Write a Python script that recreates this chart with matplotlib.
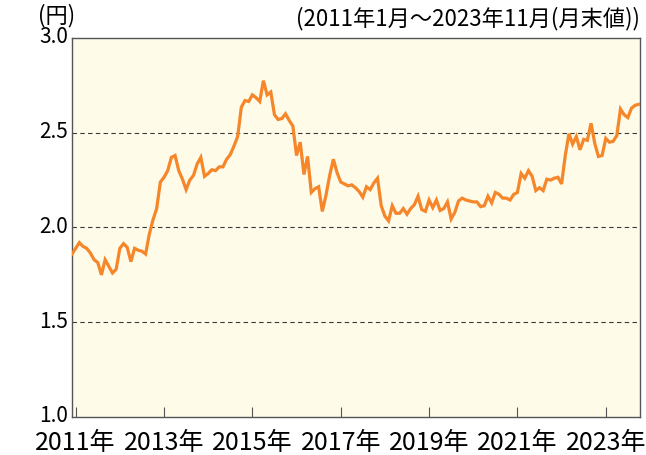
import numpy as np
import matplotlib
matplotlib.use('Agg')
import matplotlib.pyplot as plt
import matplotlib.transforms as mtransforms

# month-end values, Jan 2011 .. Nov 2023
rate = [
    1.86, 1.89, 1.92, 1.90, 1.89, 1.865, 1.83, 1.815, 1.75, 1.83, 1.795, 1.76,
    1.78, 1.89, 1.915, 1.895, 1.82, 1.89, 1.88, 1.875, 1.86, 1.965, 2.04, 2.10,
    2.24, 2.265, 2.30, 2.37, 2.38, 2.30, 2.255, 2.20, 2.25, 2.275, 2.335, 2.37,
    2.27, 2.285, 2.305, 2.30, 2.32, 2.32, 2.36, 2.385, 2.43, 2.48, 2.635, 2.67,
    2.665, 2.70, 2.685, 2.665, 2.775, 2.70, 2.715, 2.595, 2.57, 2.575, 2.60, 2.565,
    2.535, 2.38, 2.45, 2.28, 2.375, 2.185, 2.205, 2.215, 2.085, 2.17, 2.275, 2.36,
    2.29, 2.24, 2.23, 2.22, 2.225, 2.21, 2.19, 2.16, 2.215, 2.20, 2.235, 2.26,
    2.115, 2.06, 2.035, 2.115, 2.075, 2.075, 2.10, 2.07, 2.10, 2.12, 2.165, 2.095,
    2.085, 2.145, 2.105, 2.145, 2.09, 2.10, 2.135, 2.045, 2.08, 2.14, 2.155, 2.145,
    2.14, 2.135, 2.135, 2.11, 2.115, 2.165, 2.13, 2.185, 2.175, 2.155, 2.155, 2.145,
    2.175, 2.185, 2.285, 2.26, 2.30, 2.27, 2.195, 2.21, 2.195, 2.255, 2.25, 2.26,
    2.265, 2.23, 2.38, 2.495, 2.44, 2.48, 2.41, 2.465, 2.46, 2.55, 2.445, 2.375,
    2.38, 2.47, 2.45, 2.455, 2.485, 2.625, 2.595, 2.58, 2.63, 2.645, 2.65,
]
year_labels = ['2011年', '2013年', '2015年', '2017年', '2019年', '2021年', '2023年']
y_ticks = [1.0, 1.5, 2.0, 2.5, 3.0]

plt.rcParams['font.family'] = ['Noto Sans CJK JP', 'DejaVu Sans']

fig = plt.figure(figsize=(6.46, 4.55), dpi=100)
ax = fig.add_axes([72 / 646, 1 - 417 / 455, 568 / 646, 379 / 455])
ax.set_facecolor('#fefbe8')

x = np.arange(len(rate))
ax.plot(x, rate, color='#f5862a', linewidth=2.3, solid_joinstyle='miter', zorder=3)

ax.set_xlim(0, len(rate) - 0.7)
ax.set_ylim(1.0, 3.0)
ax.set_yticks(y_ticks)
ax.set_yticklabels([f'{v:.1f}' for v in y_ticks], fontsize=15)
ax.set_xticks([1 + 24 * k for k in range(len(year_labels))])
ax.set_xticklabels(year_labels, fontsize=18)
ax.tick_params(axis='y', length=0, pad=3)
ax.tick_params(axis='x', direction='in', length=7, width=0.8, color='#555555', pad=9)

# nudge the y labels up a little, like the original
shift = mtransforms.ScaledTranslation(0, 3 / 100, fig.dpi_scale_trans)
for lab in ax.get_yticklabels():
    lab.set_transform(lab.get_transform() + shift)

for v in y_ticks[1:-1]:
    ax.axhline(v, color='#3a3a3a', linestyle=(0, (4, 3)), linewidth=0.8, zorder=2)

for s in ax.spines.values():
    s.set_color('#555555')
    s.set_linewidth(1.0)

fig.text(38 / 646, 1 - 16 / 455, '(円)', fontsize=16, va='center', ha='left')
fig.text(640 / 646, 1 - 19 / 455, '(2011年1月～2023年11月(月末値))', fontsize=16,
         va='center', ha='right')

plt.savefig('out.png', dpi=100)
